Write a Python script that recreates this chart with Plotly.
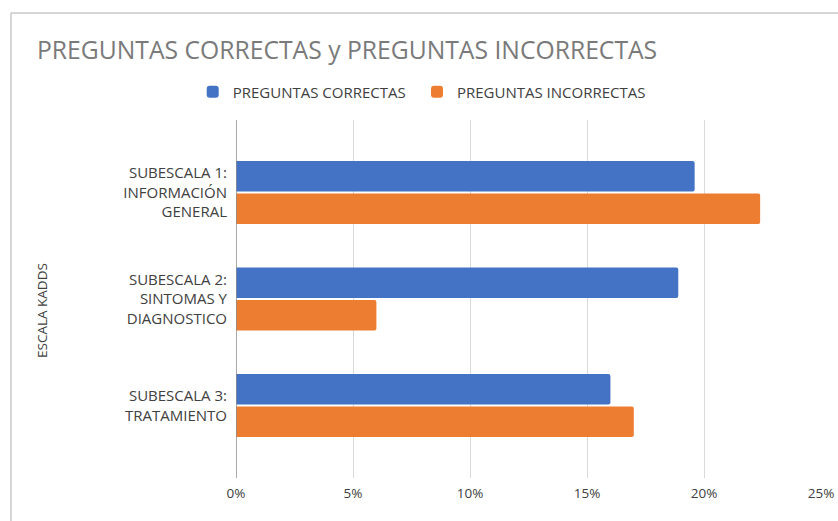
import plotly.graph_objects as go

categories = ["SUBESCALA 1:<br>INFORMACIÓN<br>GENERAL",
              "SUBESCALA 2:<br>SINTOMAS Y<br>DIAGNOSTICO",
              "SUBESCALA 3:<br>TRATAMIENTO"]
correctas = [0.196, 0.189, 0.160]
incorrectas = [0.224, 0.060, 0.170]
x_ticks = [0, 0.05, 0.10, 0.15, 0.20, 0.25]
x_ticklabels = ["0%", "5%", "10%", "15%", "20%", "25%"]

FONT = "Open Sans"
TXT = "#404040"

fig = go.Figure()
fig.add_trace(go.Bar(y=categories, x=correctas, orientation="h",
                     name="PREGUNTAS CORRECTAS", marker_color="#4472C4",
                     marker_line_width=0, legend="legend"))
fig.add_trace(go.Bar(y=categories, x=incorrectas, orientation="h",
                     name="PREGUNTAS INCORRECTAS", marker_color="#ED7D31",
                     marker_line_width=0, legend="legend2"))

W, H = 838, 521
L, R, T, B = 236, 17, 120, 43
PW, PH = W - L - R, H - T - B
LEG_Y = (H - B - 92) / PH

fig.update_layout(
    width=W, height=H,
    margin=dict(l=L, r=R, t=T, b=B, autoexpand=False),
    paper_bgcolor="white", plot_bgcolor="white",
    barmode="group", bargap=0.39, bargroupgap=0.06,
    barcornerradius=2,
    font=dict(family=FONT, color=TXT, size=14),
    title=dict(text="PREGUNTAS CORRECTAS y PREGUNTAS INCORRECTAS",
               x=37 / W, xanchor="left", xref="container",
               y=1 - 50 / H, yanchor="middle", yref="container",
               font=dict(family=FONT, size=24.7, color="#7a7a7a")),
    legend=dict(orientation="h", x=-0.074, xanchor="left",
                y=LEG_Y, yanchor="middle",
                font=dict(size=15, color=TXT),
                bgcolor="rgba(0,0,0,0)"),
    legend2=dict(orientation="h", x=(432 - 15 - L) / PW, xanchor="left",
                 y=LEG_Y, yanchor="middle",
                 font=dict(size=15, color=TXT),
                 bgcolor="rgba(0,0,0,0)"),
    xaxis=dict(range=[0, 0.25], tickvals=x_ticks, ticktext=x_ticklabels,
               showgrid=True, gridcolor="#d9d9d9", gridwidth=1,
               zeroline=False, showline=False, ticks="", automargin=False,
               ticklabelstandoff=5,
               tickfont=dict(size=13.5, color=TXT), fixedrange=True),
    yaxis=dict(range=[2.68, -0.68], showgrid=False, zeroline=False,
               showline=False, ticks="", ticklabelstandoff=8, automargin=False,
               tickfont=dict(size=15, color=TXT), fixedrange=True),
    showlegend=True,
)

# vertical category axis line at 0%
fig.add_shape(type="line", xref="x", yref="paper", x0=0, x1=0, y0=0, y1=1,
              line=dict(color="#8c8c8c", width=1.5), layer="above")

# outer chart frame (top and left)
fy = 1 + (T - 13) / PH
fx = (11 - L) / PW
fig.add_shape(type="line", xref="paper", yref="paper",
              x0=fx, x1=1 + R / PW, y0=fy, y1=fy,
              line=dict(color="#c8c8c8", width=1.5))
fig.add_shape(type="line", xref="paper", yref="paper",
              x0=fx, x1=fx, y0=-B / PH, y1=fy,
              line=dict(color="#c8c8c8", width=1.5))

# y axis title
fig.add_annotation(text="ESCALA KADDS", textangle=-90, showarrow=False,
                   xref="paper", yref="paper",
                   x=(42 - L) / PW, y=(H - B - 311) / PH,
                   xanchor="center", yanchor="middle",
                   font=dict(size=13.5, color=TXT, family=FONT))

fig.write_html("out.html", config={"displayModeBar": False},
               post_script="document.body.style.margin='0';")
